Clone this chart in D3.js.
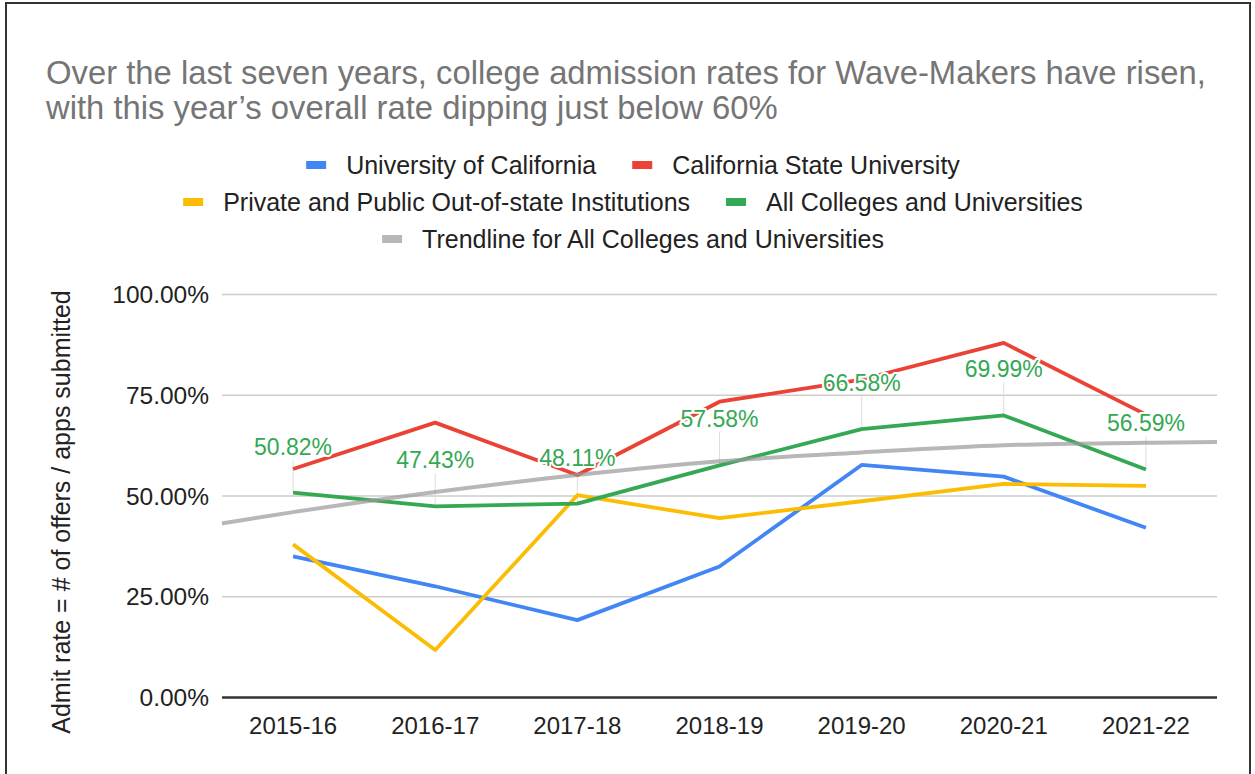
<!DOCTYPE html>
<html>
<head>
<meta charset="utf-8">
<script src="https://cdn.jsdelivr.net/npm/d3@7"></script>
<style>
  body { margin: 0; background: #fff; }
  text { font-family: Arial, "Liberation Sans", sans-serif; }
</style>
</head>
<body>
<svg id="chart"></svg>
<script>
const categories = ['2015-16', '2016-17', '2017-18', '2018-19', '2019-20', '2020-21', '2021-22'];

// admit rates, %
const ucRates = [35.0, 27.6, 19.2, 32.5, 57.7, 54.8, 42.1];
const csuRates = [56.7, 68.2, 55.2, 73.4, 78.9, 88.0, 70.2];
const privateRates = [38.0, 11.8, 50.2, 44.5, 48.7, 53.0, 52.5];
const allRates = [50.82, 47.43, 48.11, 57.58, 66.58, 69.99, 56.59];

// trendline, positions in category steps (-0.5 .. 6.5 = plot edges)
const trendPos = [-0.5, 0, 1, 2, 3, 4, 5, 6, 6.5];
const trendVals = [43.2, 46.0, 51.0, 55.2, 58.6, 60.8, 62.6, 63.2, 63.4];

const yTicks = [0, 25, 50, 75, 100];

const seriesNames = [
    'University of California',
    'California State University',
    'Private and Public Out-of-state Institutions',
    'All Colleges and Universities',
    'Trendline for All Colleges and Universities'
];

const drawChart = function (selector, width, height) {
    var left = 222,
        right = 1217,
        top = 294.5,
        bottom = 697.5,
        lineWidth = 3.8,
        colors = ['#4285f4', '#ea4335', '#fbbc04', '#34a853', '#999999'];

    var svg = d3.select(selector)
        .attr('width', width)
        .attr('height', height);

    // frame
    svg.append('rect')
        .attr('x', 6)
        .attr('y', 3)
        .attr('width', 1244)
        .attr('height', height + 20)
        .attr('fill', '#fff')
        .attr('stroke', '#333')
        .attr('stroke-width', 2);

    const x = d3.scalePoint()
        .domain(categories)
        .range([left, right])
        .padding(0.5);

    const xTrend = d3.scaleLinear()
        .domain([-0.5, categories.length - 0.5])
        .range([left, right]);

    const y = d3.scaleLinear()
        .domain([0, 100])
        .range([bottom, top]);

    // title
    var title = svg.append('text')
        .attr('fill', '#757575')
        .attr('font-size', '32.8px');
    title.append('tspan').attr('x', 46).attr('y', 84)
        .text('Over the last seven years, college admission rates for Wave-Makers have risen,');
    title.append('tspan').attr('x', 46).attr('y', 119)
        .text('with this year\u2019s overall rate dipping just below 60%');

    // legend
    var legendRows = [[0, 1], [2, 3], [4]],
        legendCenter = 633,
        swatchW = 20,
        swatchGap = 20,
        itemGap = 36;

    legendRows.forEach(function (row, r) {
        var rowY = 165 + r * 37;
        var g = svg.append('g');
        var cursor = 0;
        row.forEach(function (i) {
            g.append('rect')
                .attr('x', cursor)
                .attr('y', rowY - 4)
                .attr('width', swatchW)
                .attr('height', 8)
                .attr('fill', colors[i])
                .attr('opacity', i === 4 ? 0.7 : 1);
            var t = g.append('text')
                .attr('x', cursor + swatchW + swatchGap)
                .attr('y', rowY)
                .attr('dy', '0.35em')
                .attr('font-size', '25px')
                .attr('fill', '#222')
                .text(seriesNames[i]);
            cursor += swatchW + swatchGap + t.node().getComputedTextLength() + itemGap;
        });
        var rowWidth = cursor - itemGap;
        g.attr('transform', 'translate(' + (legendCenter - rowWidth / 2) + ',0)');
    });

    // gridlines
    svg.append('g')
        .selectAll('line')
        .data(yTicks.filter(d => d > 0))
        .join('line')
        .attr('x1', left)
        .attr('x2', right)
        .attr('y1', d => y(d))
        .attr('y2', d => y(d))
        .attr('stroke', '#cccccc')
        .attr('stroke-width', 1.5);

    // y tick labels
    svg.append('g')
        .selectAll('text')
        .data(yTicks)
        .join('text')
        .attr('x', 209)
        .attr('y', d => y(d))
        .attr('dy', '0.35em')
        .attr('text-anchor', 'end')
        .attr('font-size', '24.5px')
        .attr('fill', '#222')
        .text(d => d3.format('.2f')(d) + '%');

    // y axis title
    svg.append('text')
        .attr('transform', 'translate(70,512) rotate(-90)')
        .attr('text-anchor', 'middle')
        .attr('font-size', '25px')
        .attr('fill', '#222')
        .text('Admit rate = # of offers / apps submitted');

    // x labels
    svg.append('g')
        .selectAll('text')
        .data(categories)
        .join('text')
        .attr('x', d => x(d))
        .attr('y', 734)
        .attr('text-anchor', 'middle')
        .attr('font-size', '24px')
        .attr('fill', '#222')
        .text(d => d);

    // leader lines for data labels
    svg.append('g')
        .selectAll('line')
        .data(allRates)
        .join('line')
        .attr('x1', (d, i) => x(categories[i]))
        .attr('x2', (d, i) => x(categories[i]))
        .attr('y1', d => y(d) - 33)
        .attr('y2', d => y(d))
        .attr('stroke', '#dddddd')
        .attr('stroke-width', 1);

    // series lines
    const line = d3.line()
        .x((d, i) => x(categories[i]))
        .y(d => y(d));

    [ucRates, csuRates, privateRates, allRates].forEach(function (values, i) {
        svg.append('path')
            .datum(values)
            .attr('fill', 'none')
            .attr('stroke', colors[i])
            .attr('stroke-width', lineWidth)
            .attr('stroke-linejoin', 'round')
            .attr('d', line);
    });

    // trendline
    const trendLine = d3.line()
        .x((d, i) => xTrend(trendPos[i]))
        .y(d => y(d))
        .curve(d3.curveMonotoneX);

    svg.append('path')
        .datum(trendVals)
        .attr('fill', 'none')
        .attr('stroke', colors[4])
        .attr('stroke-opacity', 0.7)
        .attr('stroke-width', 4)
        .attr('d', trendLine);

    // baseline
    svg.append('line')
        .attr('x1', left)
        .attr('x2', right)
        .attr('y1', y(0))
        .attr('y2', y(0))
        .attr('stroke', '#333')
        .attr('stroke-width', 2.5);

    // data labels with white halo
    svg.append('g')
        .selectAll('text')
        .data(allRates)
        .join('text')
        .attr('x', (d, i) => x(categories[i]))
        .attr('y', d => y(d) - 38)
        .attr('text-anchor', 'middle')
        .attr('font-family', 'Roboto, Arial, sans-serif')
        .attr('font-size', '23px')
        .attr('fill', '#34a853')
        .attr('stroke', '#fff')
        .attr('stroke-width', 4)
        .attr('stroke-linejoin', 'round')
        .attr('paint-order', 'stroke')
        .text(d => d3.format('.2f')(d) + '%');
};

drawChart('#chart', 1255, 774);
</script>
</body>
</html>
